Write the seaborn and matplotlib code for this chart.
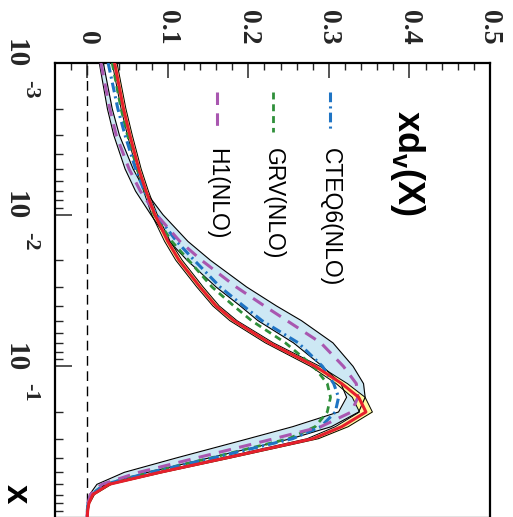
import numpy as np
import matplotlib
matplotlib.use("Agg")
import matplotlib.pyplot as plt
from matplotlib.ticker import FixedLocator, FixedFormatter, NullFormatter
import seaborn as sns

# Bjorken x grid
x_vals = [0.001, 0.002, 0.003, 0.005, 0.007, 0.01, 0.015, 0.02, 0.03, 0.04, 0.05,
          0.07, 0.1, 0.13, 0.16, 0.2, 0.25, 0.3, 0.4, 0.5, 0.6, 0.7, 0.8, 0.9, 1.0]

# this fit: central value and its band
fit_mid = [0.034, 0.045, 0.053, 0.064, 0.073, 0.084, 0.100, 0.114, 0.140, 0.160, 0.182,
           0.226, 0.283, 0.316, 0.337, 0.346, 0.316, 0.280, 0.174, 0.090, 0.027, 0.007,
           0.002, 0.0005, 0.0]
fit_lo = [0.031, 0.042, 0.050, 0.061, 0.070, 0.080, 0.096, 0.110, 0.136, 0.156, 0.177,
          0.221, 0.277, 0.309, 0.329, 0.338, 0.308, 0.273, 0.168, 0.085, 0.024, 0.005,
          0.001, 0.0, 0.0]
fit_hi = [0.037, 0.048, 0.056, 0.067, 0.076, 0.087, 0.103, 0.118, 0.144, 0.164, 0.186,
          0.231, 0.289, 0.323, 0.345, 0.354, 0.324, 0.287, 0.180, 0.095, 0.030, 0.009,
          0.003, 0.001, 0.0]

# H1 (NLO) and its error band
h1_mid = [0.017, 0.028, 0.036, 0.052, 0.066, 0.086, 0.115, 0.142, 0.185, 0.220, 0.248,
          0.290, 0.318, 0.334, 0.336, 0.328, 0.290, 0.232, 0.137, 0.064, 0.018, 0.004,
          0.001, 0.0, 0.0]
h1_lo = [0.015, 0.025, 0.033, 0.047, 0.060, 0.079, 0.102, 0.124, 0.160, 0.190, 0.212,
         0.256, 0.292, 0.315, 0.322, 0.312, 0.255, 0.200, 0.112, 0.046, 0.012, 0.003,
         0.0005, 0.0, 0.0]
h1_hi = [0.020, 0.031, 0.040, 0.057, 0.072, 0.094, 0.125, 0.153, 0.198, 0.235, 0.266,
         0.305, 0.330, 0.343, 0.345, 0.337, 0.303, 0.253, 0.153, 0.075, 0.022, 0.006,
         0.0015, 0.0, 0.0]

# CTEQ6 (NLO) and GRV (NLO)
cteq6 = [0.026, 0.038, 0.047, 0.060, 0.071, 0.086, 0.111, 0.133, 0.165, 0.194, 0.217,
         0.262, 0.292, 0.306, 0.312, 0.308, 0.290, 0.255, 0.158, 0.078, 0.022, 0.005,
         0.001, 0.0, 0.0]
grv = [0.031, 0.042, 0.050, 0.062, 0.072, 0.083, 0.105, 0.126, 0.155, 0.182, 0.204,
       0.246, 0.281, 0.298, 0.302, 0.298, 0.283, 0.250, 0.155, 0.077, 0.022, 0.005,
       0.001, 0.0, 0.0]

legend_names = ["CTEQ6(NLO)", "GRV(NLO)", "H1(NLO)"]
value_ticks = [0, 0.1, 0.2, 0.3, 0.4, 0.5]
value_tick_labels = ["0", "0.1", "0.2", "0.3", "0.4", "0.5"]
x_ticks = [1e-3, 1e-2, 1e-1]
x_tick_exponents = ["-3", "-2", "-1"]

sns.set_style("ticks")
plt.rcParams.update({
    "font.family": ["Liberation Sans", "DejaVu Sans"],
    "mathtext.fontset": "custom",
    "mathtext.rm": "Liberation Sans:bold",
    "mathtext.bf": "Liberation Sans:bold",
    "mathtext.it": "Liberation Sans:bold",
    "lines.scale_dashes": False,
})

RED = "#e6202c"
MAGENTA = "#a957b0"
GREEN = "#2f8f3a"
BLUE = "#1f74c4"
LIGHTBLUE = "#cde8f4"
YELLOW = "#fffaa0"

fig = plt.figure(figsize=(5.13, 5.17), dpi=100)
ax = fig.add_axes([55 / 513, -1 / 517, 435 / 513, 455 / 517])
ax.set_yscale("log")

# value runs across, x runs downward
ax.fill_betweenx(x_vals, h1_lo, h1_hi, color=LIGHTBLUE, lw=0, zorder=1)
ax.fill_betweenx(x_vals, fit_lo, fit_hi, color=YELLOW, lw=0, zorder=1.5)

def curve(vals, **kw):
    sns.lineplot(x=vals, y=x_vals, orient="y", sort=True, estimator=None, ax=ax, **kw)

for edge in (h1_lo, h1_hi):
    curve(edge, color="black", lw=0.8, zorder=2)
for edge in (fit_lo, fit_hi):
    curve(edge, color="black", lw=0.7, zorder=2)

curve(grv, color=GREEN, lw=2.0, linestyle=(0, (5, 3.5)), zorder=3)
curve(cteq6, color=BLUE, lw=2.2, linestyle=(0, (7, 3, 1.5, 3)), zorder=3)
curve(h1_mid, color=MAGENTA, lw=2.2, linestyle=(0, (9, 6)), zorder=3)
curve(fit_mid, color=RED, lw=2.2, zorder=4)

ax.axvline(0, color="black", lw=1.0, linestyle=(0, (7, 4)), zorder=0.5)

ax.set_xlim(-0.04, 0.5)
ax.set_ylim(1.0, 1e-3)

# value axis along the top edge
ax.xaxis.tick_top()
ax.xaxis.set_major_locator(FixedLocator(value_ticks))
ax.xaxis.set_major_formatter(FixedFormatter(value_tick_labels))
ax.xaxis.set_minor_locator(FixedLocator(np.arange(-0.02, 0.5, 0.02)))
ax.tick_params(axis="x", which="major", direction="in", length=11, width=1.1,
               pad=13, labelsize=20, labelrotation=270, top=True, bottom=False)
ax.tick_params(axis="x", which="minor", direction="in", length=5, width=1.0,
               top=True, bottom=False)
for lab in ax.get_xticklabels():
    lab.set_fontfamily("Liberation Serif")
    lab.set_fontweight("bold")

# logarithmic x axis along the left edge; labels written as 10 with a raised exponent
ax.yaxis.set_major_locator(FixedLocator(x_ticks))
ax.yaxis.set_major_formatter(NullFormatter())
minor = [m * d for d in (1e-3, 1e-2, 1e-1) for m in range(2, 10)]
ax.yaxis.set_minor_locator(FixedLocator(minor))
ax.yaxis.set_minor_formatter(NullFormatter())
ax.tick_params(axis="y", which="major", direction="in", length=12, width=1.1,
               left=True, right=False)
ax.tick_params(axis="y", which="minor", direction="in", length=6, width=1.0,
               left=True, right=False)

for t, e in zip(x_ticks, x_tick_exponents):
    ax.annotate("10", xy=(15, t), xycoords=("figure pixels", "data"),
                xytext=(0, 6.5), textcoords="offset points", rotation=270,
                ha="center", va="center", fontsize=21, fontweight="bold",
                fontfamily="Liberation Serif", annotation_clip=False)
    ax.annotate(e, xy=(30, t), xycoords=("figure pixels", "data"),
                xytext=(0, -19), textcoords="offset points", rotation=270,
                ha="center", va="center", fontsize=16, fontweight="bold",
                fontfamily="Liberation Serif", annotation_clip=False)

ax.set_xlabel("")
ax.set_ylabel("")
for side in ("left", "top", "right", "bottom"):
    ax.spines[side].set_linewidth(1.6)
    ax.spines[side].set_color("black")

# legend drawn along the reading direction of the rotated text
styles = [
    dict(color=BLUE, lw=2.2, linestyle=(0, (7, 3, 1.5, 3))),
    dict(color=GREEN, lw=2.0, linestyle=(0, (5, 3.5))),
    dict(color=MAGENTA, lw=2.2, linestyle=(0, (9, 6))),
]
legend_x = [0.632, 0.501, 0.372]
for name, st, lx in zip(legend_names, styles, legend_x):
    ax.plot([lx, lx], [0.936, 0.848], transform=ax.transAxes, **st)
    ax.text(lx, 0.813, name, transform=ax.transAxes, rotation=270,
            ha="center", va="top", fontsize=16.5, color="black")

ax.text(0.81, 0.897, r"$\mathbf{xd_{v}(X)}$", transform=ax.transAxes, rotation=270,
        ha="center", va="top", fontsize=26, color="black")

fig.text(16 / 513, 1 - 484 / 517, "x", rotation=270, ha="center", va="top",
         fontsize=25, fontweight="bold", color="black")

fig.savefig("out.png", dpi=100)
